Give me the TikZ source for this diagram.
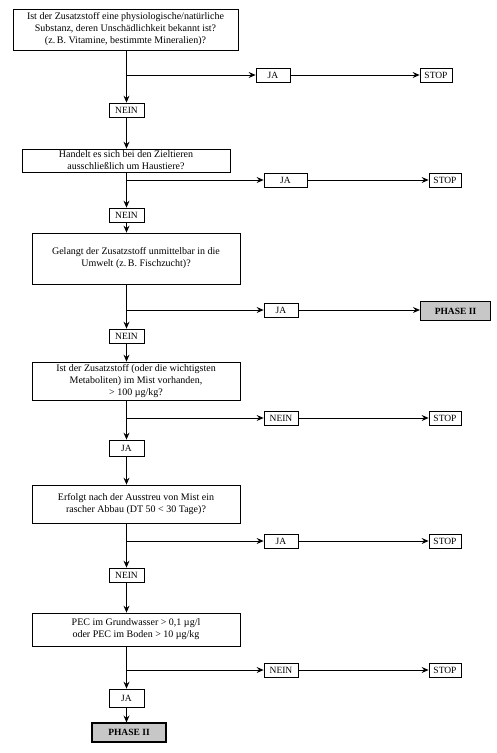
\documentclass[tikz,border=0pt]{standalone}
\usepackage{fontspec}
\setmainfont{Liberation Serif}
\usetikzlibrary{arrows.meta}
\begin{document}
\begin{tikzpicture}[x=1pt,y=-1pt,
  every node/.append style={inner sep=0pt},
  frage/.style={draw,line width=0.8pt,align=center,font=\fontsize{10}{12}\selectfont},
  antwort/.style={draw,line width=0.8pt,minimum height=14pt,font=\fontsize{9.5}{10}\selectfont},
  phase/.style={draw,line width=1.1pt,fill=black!22,minimum height=19pt,font=\bfseries\fontsize{9.5}{10}\selectfont},
  pfeil/.style={line width=0.8pt,-{Stealth[length=7pt,width=6pt,inset=2.5pt]}}]
\useasboundingbox (0,0) rectangle (497,753);
\node[frage,minimum width=225pt,minimum height=41pt] (q1) at (125.5,29.5) {Ist der Zusatzstoff eine physiologische/natürliche\\Substanz, deren Unschädlichkeit bekannt ist?\\(z.\,B. Vitamine, bestimmte Mineralien)?};
\coordinate (b1) at (126.5,75);
\node[antwort,minimum width=34pt] (ja1) at (273,75) {JA};
\node[antwort,minimum width=32pt] (s1) at (436,75) {STOP};
\node[antwort,minimum width=35pt] (n1) at (126.5,110) {NEIN};
\node[frage,minimum width=208pt,minimum height=23pt] (q2) at (126,160.5) {Handelt es sich bei den Zieltieren\\ausschließlich um Haustiere?};
\coordinate (b2) at (126.5,180);
\node[antwort,minimum width=43pt] (ja2) at (285.5,180) {JA};
\node[antwort,minimum width=32pt] (s2) at (445,180) {STOP};
\node[antwort,minimum width=35pt] (n2) at (126.5,215) {NEIN};
\node[frage,minimum width=208pt,minimum height=51pt] (q3) at (136,258.5) {Gelangt der Zusatzstoff unmittelbar in die\\Umwelt (z.\,B. Fischzucht)?};
\coordinate (b3) at (126.5,310);
\node[antwort,minimum width=34pt] (ja3) at (281,310) {JA};
\node[phase,minimum width=70pt] (p3) at (455.5,311) {PHASE II};
\node[antwort,minimum width=35pt] (n3) at (126.5,336) {NEIN};
\node[frage,minimum width=208pt,minimum height=38pt] (q4) at (136,381) {Ist der Zusatzstoff (oder die wichtigsten\\Metaboliten) im Mist vorhanden,\\> 100 µg/kg?};
\coordinate (b4) at (126.5,418);
\node[antwort,minimum width=34pt] (n4) at (281,418) {NEIN};
\node[antwort,minimum width=32pt] (s4) at (445,418) {STOP};
\node[antwort,minimum width=35pt,minimum height=16pt] (ja4) at (126.5,448) {JA};
\node[frage,minimum width=208pt,minimum height=38pt] (q5) at (136,504) {Erfolgt nach der Ausstreu von Mist ein\\rascher Abbau (DT 50 < 30 Tage)?};
\coordinate (b5) at (126.5,541);
\node[antwort,minimum width=34pt] (ja5) at (281,541) {JA};
\node[antwort,minimum width=32pt] (s5) at (445,541) {STOP};
\node[antwort,minimum width=35pt] (n5) at (126.5,575) {NEIN};
\node[frage,minimum width=208pt,minimum height=33pt] (q6) at (136,629.5) {PEC im Grundwasser > 0,1 µg/l\\oder PEC im Boden > 10 µg/kg};
\coordinate (b6) at (126.5,670);
\node[antwort,minimum width=34pt] (n6) at (281,670) {NEIN};
\node[antwort,minimum width=32pt] (s6) at (445,670) {STOP};
\node[antwort,minimum width=35pt,minimum height=18pt] (ja6) at (126.5,698) {JA};
\node[phase,minimum width=74pt] (p6) at (129,732.5) {PHASE II};
\draw[pfeil] (q1.south -| n1) -- (n1);
\draw[pfeil] (b1) -- (ja1);
\draw[pfeil] (ja1) -- (s1);
\draw[pfeil] (n1) -- (n1 |- q2.north);
\draw[pfeil] (q2.south -| n2) -- (n2);
\draw[pfeil] (b2) -- (ja2);
\draw[pfeil] (ja2) -- (s2);
\draw[pfeil] (n2) -- (n2 |- q3.north);
\draw[pfeil] (q3.south -| n3) -- (n3);
\draw[pfeil] (b3) -- (ja3);
\draw[pfeil] (ja3) -- (ja3 -| p3.west);
\draw[pfeil] (n3) -- (n3 |- q4.north);
\draw[pfeil] (q4.south -| ja4) -- (ja4);
\draw[pfeil] (b4) -- (n4);
\draw[pfeil] (n4) -- (s4);
\draw[pfeil] (ja4) -- (ja4 |- q5.north);
\draw[pfeil] (q5.south -| n5) -- (n5);
\draw[pfeil] (b5) -- (ja5);
\draw[pfeil] (ja5) -- (s5);
\draw[pfeil] (n5) -- (n5 |- q6.north);
\draw[pfeil] (q6.south -| ja6) -- (ja6);
\draw[pfeil] (b6) -- (n6);
\draw[pfeil] (n6) -- (s6);
\draw[pfeil] (ja6) -- (ja6 |- p6.north);
\end{tikzpicture}
\end{document}
